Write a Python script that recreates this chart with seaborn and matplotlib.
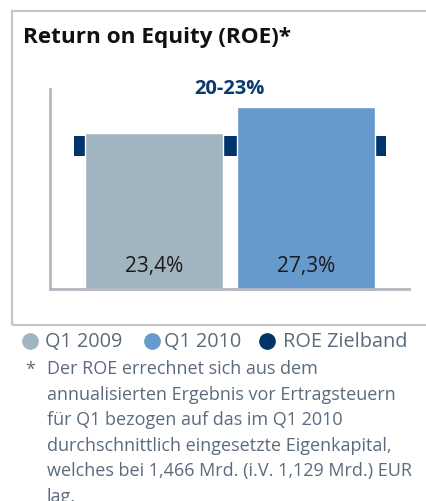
import matplotlib
matplotlib.use("Agg")
import matplotlib.pyplot as plt
from matplotlib.patches import Rectangle
from matplotlib.lines import Line2D
import seaborn as sns
import pandas as pd

# Data
periods = ["Q1 2009", "Q1 2010"]
roe_values = [23.4, 27.3]
value_labels = ["23,4%", "27,3%"]
target_band = [20, 23]
target_label = "20-23%"
legend_labels = ["Q1 2009", "Q1 2010", "ROE Zielband"]

title = "Return on Equity (ROE)*"
footnote_lines = [
    "Der ROE errechnet sich aus dem",
    "annualisierten Ergebnis vor Ertragsteuern",
    "für Q1 bezogen auf das im Q1 2010",
    "durchschnittlich eingesetzte Eigenkapital,",
    "welches bei 1,466 Mrd. (i.V. 1,129 Mrd.) EUR",
    "lag.",
]

# Colours
c_2009 = "#a1b5c0"
c_2010 = "#6699cc"
c_band = "#00346b"
c_text = "#5b6b7d"
c_axis = "#b3b8c0"

sns.set_theme(style="white")
plt.rcParams["font.family"] = ["Open Sans", "DejaVu Sans"]

W, H = 427, 502
fig = plt.figure(figsize=(W / 100, H / 100), dpi=100)


def fx(px):
    return px / W


def fy(py):
    return 1 - py / H


# Frame around chart block
fig.patches.append(Rectangle((fx(12), fy(326)), (W + 10) / W, (326 - 12) / H,
                             transform=fig.transFigure, fill=False,
                             edgecolor="#c6c6c6", linewidth=1.6, zorder=0))

fig.text(fx(23), fy(37), title, fontsize=16.2, fontweight="bold",
         color="#111111", va="center", ha="left")

ax = fig.add_axes([fx(50), fy(290), (409 - 50) / W, (290 - 90) / H])
df = pd.DataFrame({"period": periods, "roe": roe_values})

# Target band behind the bars
ax.fill_between([-0.526, 1.526], target_band[0], target_band[1],
                color=c_band, linewidth=0, zorder=1)

sns.barplot(data=df, x="period", y="roe", hue="period",
            palette=[c_2009, c_2010], width=0.91, legend=False,
            ax=ax, zorder=2, saturation=1)

for i, lbl in enumerate(value_labels):
    ax.text(i, 3.5, lbl, ha="center", va="center", fontsize=15,
            color="#1a1a1a", zorder=3)

ax.text(0.5, 30.2, target_label, ha="center", va="center", fontsize=14.5,
        fontweight="bold", color="#0b3a6e", clip_on=False)

ax.set_xlim(-0.684, 1.678)
ax.set_ylim(0, 30)
ax.set_xticks([])
ax.set_yticks([])
ax.set_xlabel("")
ax.set_ylabel("")
for s in ["top", "right"]:
    ax.spines[s].set_visible(False)
for s in ["left", "bottom"]:
    ax.spines[s].set_color(c_axis)
    ax.spines[s].set_linewidth(2)

# Legend row
legend_y = 342
for color, label, cx, tx in zip([c_2009, c_2010, c_band], legend_labels,
                                [30, 152, 267], [45, 164, 283]):
    fig.add_artist(Line2D([fx(cx)], [fy(legend_y)], marker="o", linestyle="",
                          markersize=11, markerfacecolor=color,
                          markeredgecolor=color, transform=fig.transFigure))
    fig.text(fx(tx), fy(legend_y), label, fontsize=14.3, color=c_text,
             va="center", ha="left")

# Footnote
fig.text(fx(25), fy(370), "*", fontsize=13, color=c_text, va="center", ha="left")
for k, line in enumerate(footnote_lines):
    fig.text(fx(47), fy(369 + 25.6 * k), line, fontsize=13, color=c_text,
             va="center", ha="left")

fig.savefig("out.png", dpi=100)
